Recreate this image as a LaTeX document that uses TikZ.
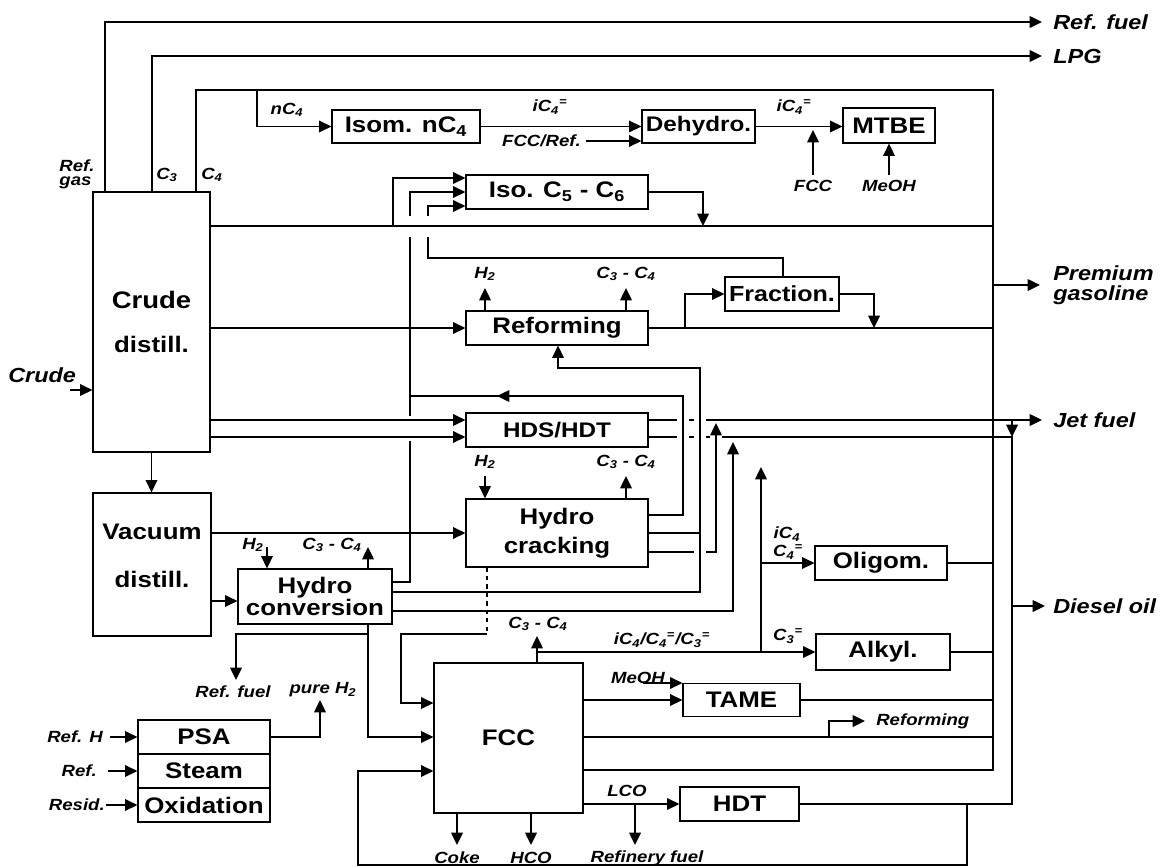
\documentclass[tikz,border=0pt]{standalone}
\usepackage{fontspec}
\setmainfont{Liberation Sans}[FakeStretch=1.15]
\usetikzlibrary{arrows.meta, calc}
\newcommand{\boxfont}{\fontsize{16}{19}\selectfont\bfseries}
\newcommand{\lblfont}{\fontsize{11.5}{10}\selectfont\bfseries\itshape}
\newcommand{\outfont}{\fontsize{14.5}{14}\selectfont\bfseries\itshape}
\newcommand{\olef}[1]{\textsubscript{#1}\textsuperscript{=}}
\tikzset{
	box/.style    ={draw, line width=0.8pt, inner sep=0pt, align=center, font=\boxfont, minimum height=0.85cm},
	pipe/.style   ={line width=1.3pt},
	flow/.style   ={-{Triangle[length=3.1mm,width=2.9mm]}, line width=1.3pt},
	lbl/.style    ={font=\lblfont, inner sep=0pt, align=left},
	outlbl/.style ={font=\outfont, inner sep=0pt, anchor=west, align=left},
}
\begin{document}
\begin{tikzpicture}[x=0.025cm, y=-0.025cm]
\useasboundingbox (0,0) rectangle (1163,867);

% process units
\node[box, minimum width=2.925cm, minimum height=6.5cm] (crude) at (151.5,322) {\fontsize{17}{20}\selectfont Crude\\[12pt]distill.};
\node[box, minimum width=2.95cm, minimum height=3.575cm] (vacuum) at (152,564.5) {Vacuum\\[15pt]distill.\\[-12pt]\strut};
\node[box, minimum width=3.85cm, minimum height=1.375cm] (hconv) at (315,596.5) {Hydro\\[-3pt]conversion};
\node[box, minimum width=3.7cm, minimum height=0.825cm] (isom) at (406,126.5) {Isom. nC\textsubscript{4}};
\node[box, minimum width=2.825cm, minimum height=0.825cm, font=\fontsize{15}{18}\selectfont\bfseries] (dehydro) at (698.5,126.5) {Dehydro.};
\node[box, minimum width=2.3cm, minimum height=0.875cm] (mtbe) at (889,125.5) {MTBE};
\node[box, minimum width=4.55cm] (iso) at (557,192) {Iso. C\textsubscript{5} - C\textsubscript{6}};
\node[box, minimum width=4.55cm] (reform) at (557,328) {Reforming};
\node[box, minimum width=2.85cm, font=\fontsize{15.5}{18}\selectfont\bfseries] (frac) at (782,294) {Fraction.};
\node[box, minimum width=4.55cm, font=\fontsize{15}{18}\selectfont\bfseries] (hds) at (557,430) {HDS/HDT};
\node[box, minimum width=4.55cm, minimum height=1.7cm] (hcrack) at (557,533) {Hydro\\[2pt]cracking};
\node[box, minimum width=3.3cm] (oligom) at (881,563) {Oligom.};
\node[box, minimum width=3.35cm, minimum height=0.9cm] (alkyl) at (883,652) {Alkyl.};
\node[box, minimum width=2.925cm, minimum height=0.825cm] (tame) at (741.5,700) {TAME};
\node[box, minimum width=3.725cm, minimum height=3.75cm] (fcc) at (508.5,738) {FCC};
\node[box, minimum width=2.975cm] (hdt) at (739.5,804) {HDT};
\node[box, minimum width=3.3cm] (psa) at (204,737) {PSA};
\node[box, minimum width=3.3cm] (steam) at (204,771) {Steam};
\node[box, minimum width=3.3cm] (oxid) at (204,805) {Oxidation};

% product ends
\coordinate (oRF) at (1042,22);
\coordinate (oLPG) at (1042,56);
\coordinate (oPrem) at (1040,285);
\coordinate (oJet) at (1042,420);
\coordinate (oDiesel) at (1045,606);
\node[outlbl] (tRF) at (1053,22) {Ref. fuel};
\node[outlbl] (tLPG) at (1053,56) {LPG};
\node[outlbl] (tPrem) at (1053,285) {Premium\\gasoline};
\node[outlbl] (tJet) at (1053,420) {Jet fuel};
\node[outlbl] (tDiesel) at (1053,606) {Diesel oil};

% crude distillation overheads
\node[lbl] (tRG) at (77,174) {Ref.\\gas};
\node[lbl] (tC3) at (167,175) {C\textsubscript{3}};
\node[lbl] (tC4) at (212,175) {C\textsubscript{4}};
\draw[flow] (crude.north -| 105,0) |- (oRF);
\draw[flow] (crude.north -| 152,0) |- (oLPG);
\draw[pipe] (crude.north -| 196,0) |- (993,90) -- (993,770) -- (fcc.east |- 0,770);
\node[outlbl] (tCrude) at (8,375) {Crude};
\draw[flow] (70,390) -- (crude.west |- 0,390);

% C4 chain
\node[lbl] (tnC4) at (287,110) {nC\textsubscript{4}};
\draw[flow] (257,90) |- (isom.west);
\node[lbl] (tiC4a) at (550,107) {iC\olef{4}};
\draw[flow] (isom.east) -- (isom.east -| dehydro.west);
\node[lbl, anchor=east] (tFR) at (581,141) {FCC/Ref.};
\draw[flow] ($(tFR.east)+(5,0)$) -- (tFR.east -| dehydro.west);
\node[lbl] (tiC4b) at (794,107) {iC\olef{4}};
\draw[flow] (dehydro.east) -- (dehydro.east -| mtbe.west);
\node[lbl] (tFCCm) at (813,186) {FCC};
\draw[flow] ($(tFCCm.north)+(0,-5)$) -- (813,130);
\node[lbl] (tMeOHm) at (889,186) {MeOH};
\draw[flow] ($(tMeOHm.north)+(0,-5)$) -- (tMeOHm.north |- mtbe.south);

% light naphtha and isomerisation
\draw[pipe] (crude.east |- 0,226) -- (993,226);
\draw[flow] (393,226) |- (iso.west |- 0,178);
\draw[flow] (410,216) |- (iso.west |- 0,192);
\draw[pipe] (410,237) -- (410,416);
\draw[pipe] (410,441) -- (410,582) -- (hconv.east |- 0,582);
\draw[flow] (428,216) |- (iso.west |- 0,206);
\draw[pipe] (428,237) |- (783,258) -- (frac.north -| 783,0);
\draw[flow] (iso.east |- 0,192) -| (703,226);

% reforming
\draw[flow] (crude.east |- reform.west) -- (reform.west);
\draw[pipe] (reform.east) -- (reform.east -| 993,0);
\draw[flow] (685,328) |- (frac.west);
\draw[flow] (frac.east) -| (874,328);
\draw[flow] (reform.north -| 485,0) -- (485,288);
\draw[flow] (reform.north -| 626,0) -- (626,288);
\node[lbl] (tH2a) at (485,274) {H\textsubscript{2}};
\node[lbl] (tC34a) at (626,274) {C\textsubscript{3} - C\textsubscript{4}};
\draw[flow] (993,285) -- (oPrem);

% middle distillates
\draw[flow] (crude.east |- 0,420) -- (hds.west |- 0,420);
\draw[flow] (crude.east |- 0,437) -- (hds.west |- 0,437);
\draw[pipe] (hds.east |- 0,420) -- (677,420) (689,420) -- (694,420);
\draw[flow] (706,420) -- (oJet);
\draw[pipe] (hds.east |- 0,437) -- (677,437) (689,437) -- (694,437) (706,437) -- (710,437);
\draw[pipe] (722,437) -- (1012,437) -- (1012,804) -- (hdt.east);
\draw[flow] (1012,420) -- (1012,437);
\draw[flow] (1012,606) -- (oDiesel);

% vacuum distillation
\draw[flow] (crude.south) -- (crude.south |- vacuum.north);
\draw[flow] (vacuum.east |- hcrack.west) -- (hcrack.west);
\draw[flow] (vacuum.east |- 0,601) -- (hconv.west |- 0,601);

% hydrocracking
\draw[flow] (485,476) -- (hcrack.north -| 485,0);
\draw[flow] (hcrack.north -| 626,0) -- (626,476);
\node[lbl] (tH2b) at (485,462) {H\textsubscript{2}};
\node[lbl] (tC34b) at (626,462) {C\textsubscript{3} - C\textsubscript{4}};
\draw[pipe] (hcrack.east |- 0,515) -| (683,396) -- (410,396);
\draw[flow] (530,396) -- (497,396);
\draw[pipe] (hcrack.east) -- (700,533);
\draw[pipe] (hcrack.east |- 0,552) -- (694,552);
\draw[flow] (706,552) -| (716,423);
\draw[pipe, dashed] (hcrack.south -| 487,0) -- (487,634);
\draw[flow] (487,634) -| (401,703) -- (fcc.west |- 0,703);

% hydroconversion
\draw[flow] (267,547) -- (hconv.north -| 267,0);
\draw[flow] (hconv.north -| 368,0) -- (368,547);
\node[lbl] (tH2c) at (253,545) {H\textsubscript{2}};
\node[lbl] (tC34c) at (332,545) {C\textsubscript{3} - C\textsubscript{4}};
\draw[flow] (hconv.east |- 0,592) -| (700,368) -| (reform.south -| 558,0);
\draw[flow] (hconv.east |- 0,611) -| (733,442);
\draw[flow] (hconv.south -| 368,0) |- (fcc.west |- 0,737);
\draw[flow] (368,634) -| (236,680);
\node[lbl] (tRFb) at (233,692) {Ref. fuel};

% hydrogen plant
\node[lbl, anchor=east] (tRH) at (103,737) {Ref. H};
\node[lbl, anchor=east] (tRef) at (97,771) {Ref.};
\node[lbl, anchor=east] (tRes) at (105,805) {Resid.};
\draw[flow] (110,737) -- (psa.west);
\draw[flow] (108,771) -- (steam.west);
\draw[flow] (106,805) -- (oxid.west);
\draw[flow] (psa.east) -| (320,700);
\node[lbl] (tPH2) at (323,690) {pure H\textsubscript{2}};

% catalytic cracking
\draw[flow] (fcc.north -| 537,0) -- (537,636);
\node[lbl] (tC34d) at (538,624) {C\textsubscript{3} - C\textsubscript{4}};
\draw[flow] (537,652) -- (alkyl.west);
\node[lbl] (tOlef) at (662,640) {iC\textsubscript{4}/C\olef{4}/C\olef{3}};
\node[lbl] (tC3e) at (788,636) {C\olef{3}};
\draw[flow] (761,652) -- (761,467);
\draw[flow] (761,563) -- (oligom.west);
\node[lbl] (tiC4c) at (787,534) {iC\textsubscript{4}};
\node[lbl] (tC4e) at (788,552) {C\olef{4}};
\draw[flow] (fcc.east |- tame.west) -- (tame.west);
\node[lbl] (tMeOHt) at (638,678) {MeOH};
\draw[flow] (643,683) -- (tame.west |- 0,683);
\draw[pipe] (fcc.east |- 0,737) -- (993,737);
\draw[flow] (829,737) |- (865,721);
\node[lbl, anchor=west] (tRefm) at (876,721) {Reforming};
\draw[flow] (fcc.east |- hdt.west) -- (hdt.west);
\node[lbl] (tLCO) at (627,791) {LCO};
\draw[flow] (635,804) -- (635,845);
\node[lbl] (tRefF) at (647,858) {Refinery fuel};
\draw[flow] (fcc.south -| 457,0) -- (457,845);
\node[lbl] (tCoke) at (457,858) {Coke};
\draw[flow] (fcc.south -| 531,0) -- (531,845);
\node[lbl] (tHCO) at (531,858) {HCO};
\draw[flow] (967,804) -- (967,865) -| (358,771) -- (fcc.west |- 0,771);

% gasoline pool
\draw[pipe] (tame.east) -- (tame.east -| 993,0);
\draw[pipe] (oligom.east) -- (oligom.east -| 993,0);
\draw[pipe] (alkyl.east) -- (alkyl.east -| 993,0);
\end{tikzpicture}
\end{document}
